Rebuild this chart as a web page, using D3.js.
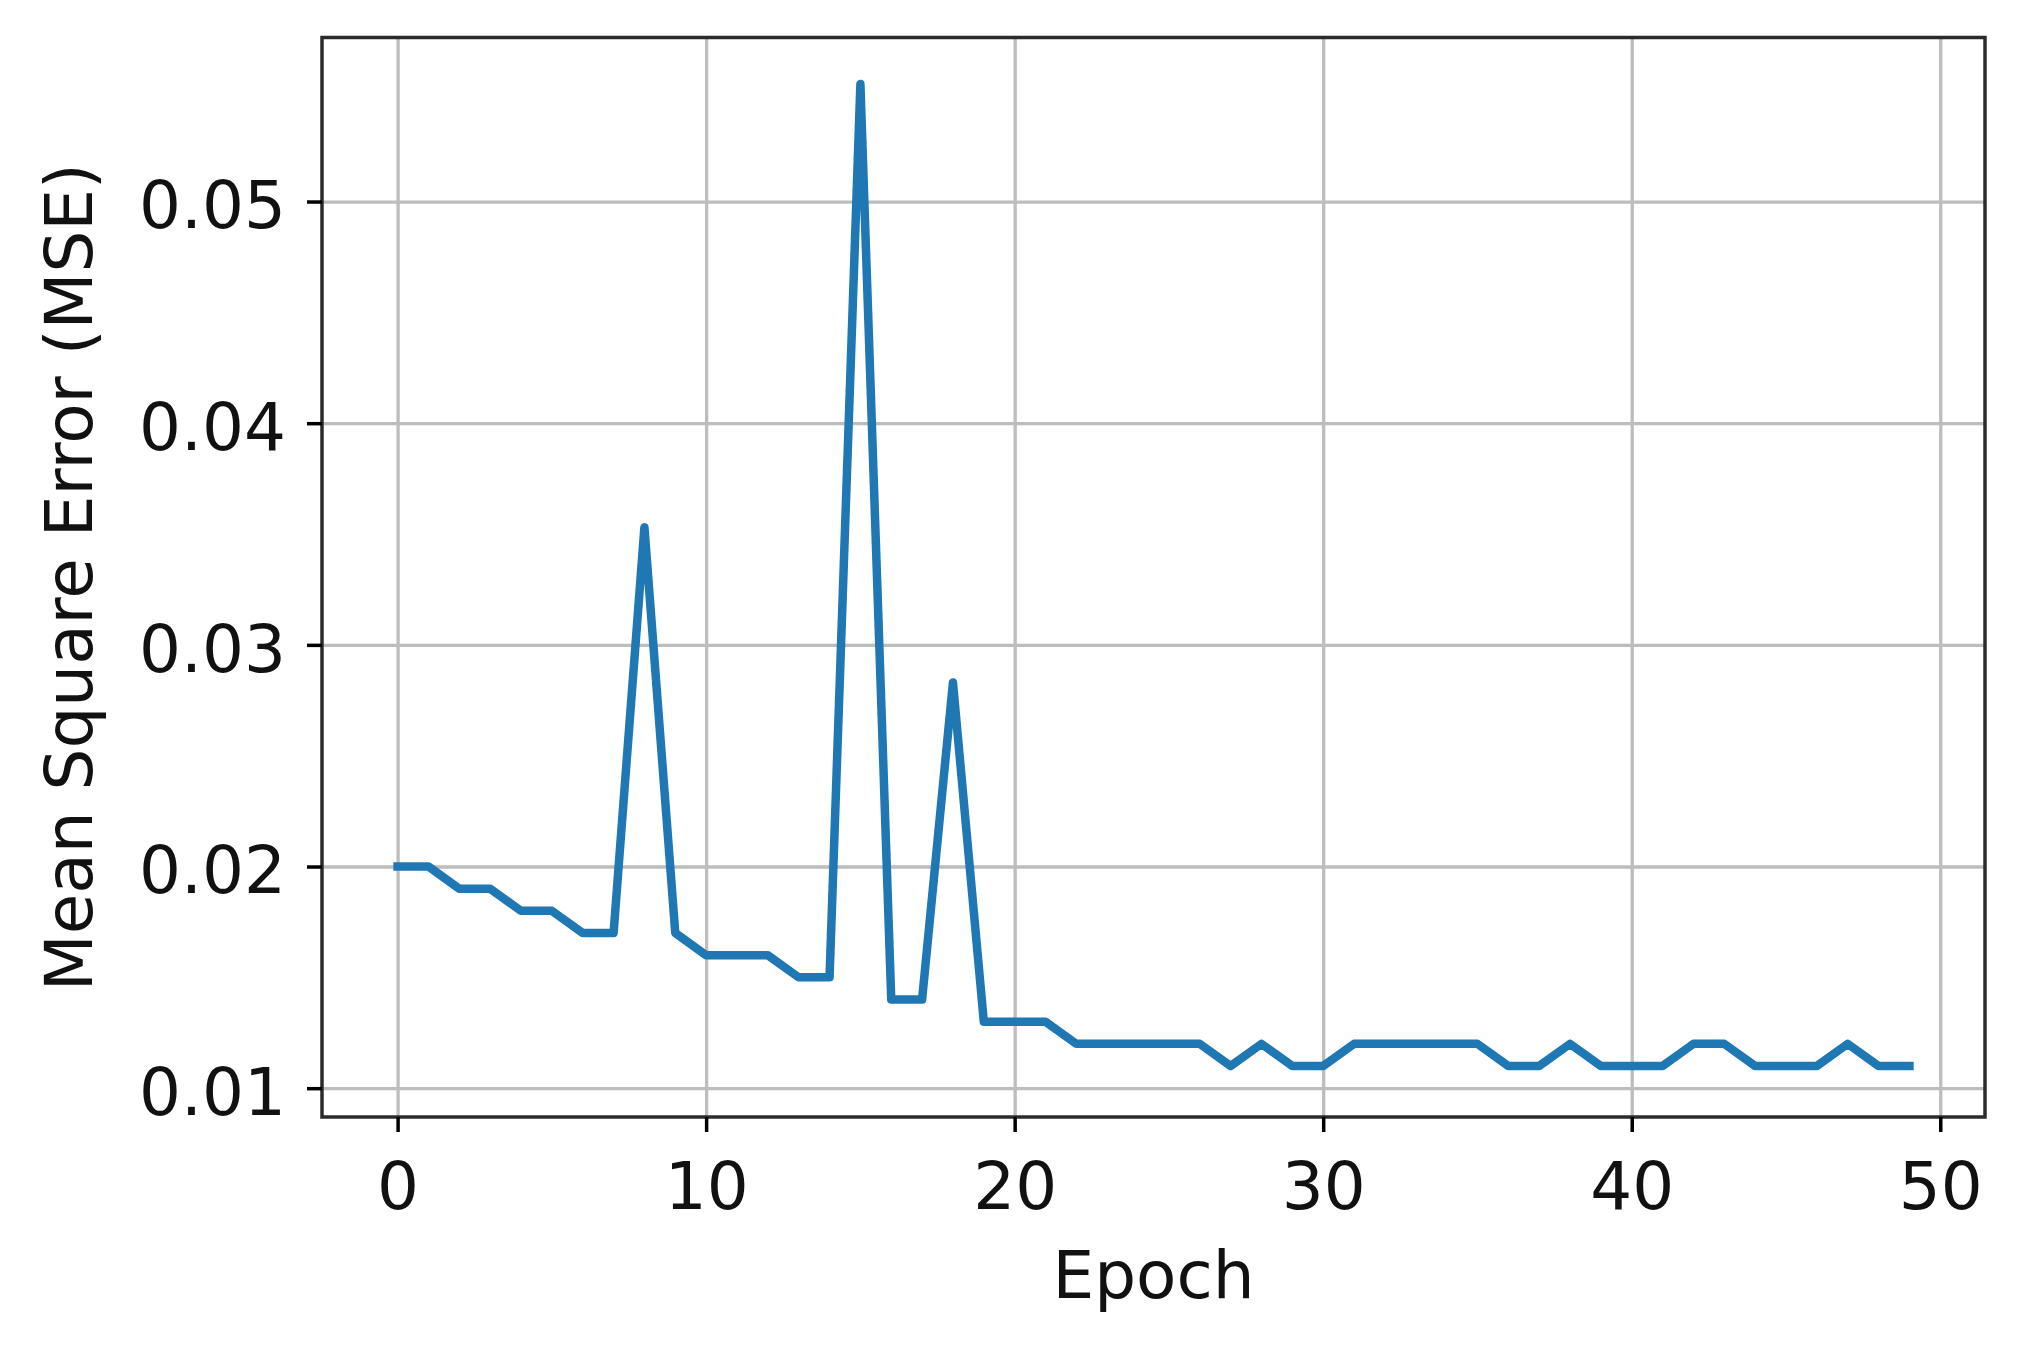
<!DOCTYPE html>
<html>
<head>
<meta charset="utf-8">
<script src="https://cdn.jsdelivr.net/npm/d3@7"></script>
<style>
  body { margin: 0; background: #ffffff; }
  svg { display: block; }
  text { font-family: "DejaVu Sans", sans-serif; }
</style>
</head>
<body>
<div id="chart"></div>
<script>
const width = 2030;
const height = 1346;
const margin = { top: 37.5, right: 45, bottom: 229, left: 322 };

// MSE per epoch
const mse = [
  0.020, 0.020, 0.019, 0.019, 0.018, 0.018, 0.017, 0.017, 0.0353, 0.017,
  0.016, 0.016, 0.016, 0.015, 0.015, 0.0553, 0.014, 0.014, 0.0283, 0.013,
  0.013, 0.013, 0.012, 0.012, 0.012, 0.012, 0.012, 0.011, 0.012, 0.011,
  0.011, 0.012, 0.012, 0.012, 0.012, 0.012, 0.011, 0.011, 0.012, 0.011,
  0.011, 0.011, 0.012, 0.012, 0.011, 0.011, 0.011, 0.012, 0.011, 0.011
];
const xTicks = [0, 10, 20, 30, 40, 50];
const yTicks = [0.01, 0.02, 0.03, 0.04, 0.05];
const xDomain = [-2.45, 51.45];
const yDomain = [0.0087, 0.0574];

const innerW = width - margin.left - margin.right;
const innerH = height - margin.top - margin.bottom;

const svg = d3.select("#chart")
  .append("svg")
  .attr("width", width)
  .attr("height", height)
  .style("background-color", "#ffffff");

const g = svg.append("g")
  .attr("transform", `translate(${margin.left}, ${margin.top})`);

const xScale = d3.scaleLinear().domain(xDomain).range([0, innerW]);
const yScale = d3.scaleLinear().domain(yDomain).range([innerH, 0]);

// grid
g.append("g")
  .attr("class", "grid")
  .attr("transform", `translate(0, ${innerH})`)
  .call(d3.axisBottom(xScale).tickValues(xTicks).tickSize(-innerH).tickFormat(""))
  .call(s => s.select(".domain").remove())
  .selectAll("line")
  .attr("stroke", "#bdbdbd")
  .attr("stroke-width", 3.3);

g.append("g")
  .attr("class", "grid")
  .call(d3.axisLeft(yScale).tickValues(yTicks).tickSize(-innerW).tickFormat(""))
  .call(s => s.select(".domain").remove())
  .selectAll("line")
  .attr("stroke", "#bdbdbd")
  .attr("stroke-width", 3.3);

// the loss curve
g.append("path")
  .datum(mse)
  .attr("fill", "none")
  .attr("stroke", "#1f77b4")
  .attr("stroke-width", 8.5)
  .attr("stroke-linejoin", "round")
  .attr("stroke-linecap", "square")
  .attr("d", d3.line()
    .x((d, i) => xScale(i))
    .y(d => yScale(d))
  );

// frame
g.append("rect")
  .attr("width", innerW)
  .attr("height", innerH)
  .attr("fill", "none")
  .attr("stroke", "#2b2b2b")
  .attr("stroke-width", 3.5);

const xAxis = g.append("g")
  .attr("transform", `translate(0, ${innerH})`)
  .call(d3.axisBottom(xScale).tickValues(xTicks).tickSize(15).tickPadding(30).tickFormat(d3.format("d")));

const yAxis = g.append("g")
  .call(d3.axisLeft(yScale).tickValues(yTicks).tickSize(15).tickPadding(21).tickFormat(d3.format(".2f")));

[xAxis, yAxis].forEach(a => {
  a.select(".domain").remove();
  a.selectAll(".tick line").attr("stroke", "#000000").attr("stroke-width", 3.5);
  a.selectAll(".tick text")
    .attr("fill", "#111111")
    .style("font-size", "66px")
    .style("font-family", "'DejaVu Sans', sans-serif");
});
yAxis.selectAll(".tick text").attr("dy", "0.4em");

// axis titles
svg.append("text")
  .attr("x", margin.left + innerW / 2)
  .attr("y", 1298)
  .attr("text-anchor", "middle")
  .style("font-size", "66px")
  .attr("fill", "#111111")
  .text("Epoch");

svg.append("text")
  .attr("transform", `translate(92, ${margin.top + innerH / 2}) rotate(-90)`)
  .attr("text-anchor", "middle")
  .style("font-size", "66px")
  .attr("fill", "#111111")
  .text("Mean Square Error (MSE)");
</script>
</body>
</html>
